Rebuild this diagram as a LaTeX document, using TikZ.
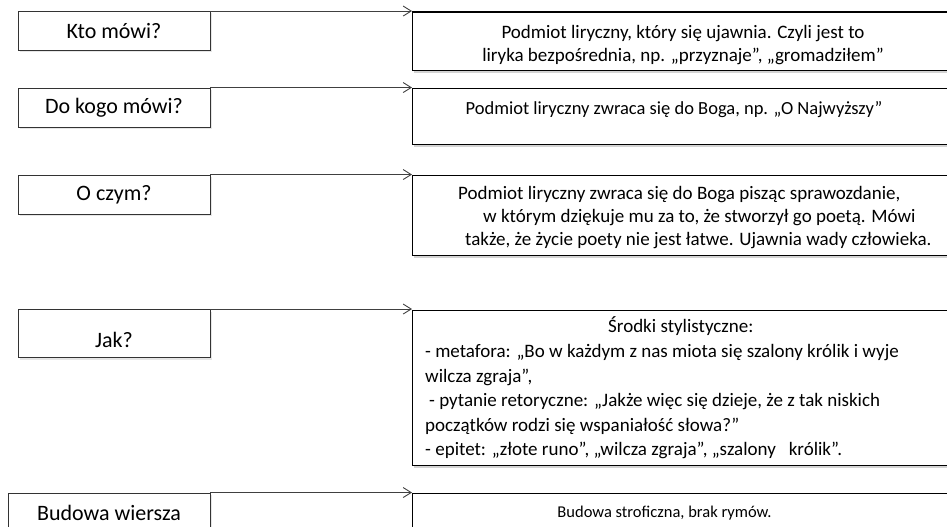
\documentclass[tikz,border=0pt]{standalone}
\usepackage{fontspec}
\setmainfont{Carlito}
\usepackage{tikz}
\usetikzlibrary{positioning,shadows,arrows.meta}

\tikzset{
  question/.style={draw=black!80, line width=0.9pt, fill=white, minimum width=192pt,
    minimum height=39pt, inner sep=0pt, font=\fontsize{22}{26}\selectfont,
    drop shadow={shadow xshift=1.5pt, shadow yshift=-2pt, opacity=0.2}},
  answer/.style={draw=black, line width=1.3pt, fill=white, minimum width=548pt,
    inner sep=0pt, anchor=north west,
    drop shadow={shadow xshift=1.5pt, shadow yshift=-2.5pt, opacity=0.35}},
  answertext/.style={inner sep=0pt, font=\fontsize{19}{23}\selectfont},
  link/.style={draw=black!75, line width=0.9pt, -{Straight Barb[length=8pt,width=10pt]}}
}

\begin{document}
\begin{tikzpicture}[x=1pt, y=-1pt]
	\path[use as bounding box, clip] (0,0) rectangle (947,527);
	% Define nodes
	\node[question]                        (kto)    at (114,31) {Kto mówi?};
	\node[question]                        (dokogo) at (114,107.5) {Do kogo mówi?};
	\node[question]                        (oczym)  at (114,194.5) {O czym?};
	\node[question, minimum height=48pt]   (jak)    at (114,333.5) {\raisebox{-6pt}[\height][\depth]{Jak?}};
	\node[question, minimum width=202pt, minimum height=40pt] (budowa) at (109,513) {Budowa wiersza};
	% Answers
	\node[answer, minimum height=58pt]  (odp1) at (412,11.5) {};
	\node[answer, minimum height=56pt]  (odp2) at (412,88) {};
	\node[answer, minimum height=80pt]  (odp3) at (412,175) {};
	\node[answer, minimum height=155pt] (odp4) at (412,309.5) {};
	\node[answer, minimum height=44pt]  (odp5) at (412,493) {};
	% Texts of the answers
	\node[answertext, align=center] (t1) at (683,45)
	  {Podmiot liryczny, który się ujawnia. Czyli jest to\\ liryka bezpośrednia, np. „przyznaje”, „gromadziłem”};
	\node[answertext, font=\fontsize{18.5}{23}\selectfont] (t2) at (674,110) {Podmiot liryczny zwraca się do Boga, np. „O Najwyższy”};
	\node[answertext, align=left, anchor=west] (t3) at (458,218)
	  {Podmiot liryczny zwraca się do Boga pisząc sprawozdanie,\\
	   \hspace*{25pt}w którym dziękuje mu za to, że stworzył go poetą. Mówi\\
	   \hspace*{7pt}także, że życie poety nie jest łatwe. Ujawnia wady człowieka.};
	\node[answertext, align=left, anchor=west, font=\fontsize{19}{24.6}\selectfont] (t4) at (425,388)
	  {\hspace*{183pt}Środki stylistyczne:\\
	   - metafora: „Bo w każdym z nas miota się szalony królik i wyje\\
	   wilcza zgraja”,\\
	   \hspace*{4pt}- pytanie retoryczne: „Jakże więc się dzieje, że z tak niskich\\
	   początków rodzi się wspaniałość słowa?”\\
	   - epitet: „złote runo”, „wilcza zgraja”, „szalony\ \ \ królik”.};
	\node[answertext, font=\fontsize{16.5}{20}\selectfont] (t5) at (664.5,513) {Budowa stroficzna, brak rymów.};
	% Connect the nodes
	\draw[link] (kto.north east)    -- (kto.north east -| odp1.west);
	\draw[link] (dokogo.north east) -- (dokogo.north east -| odp2.west);
	\draw[link] (oczym.north east)  -- (oczym.north east -| odp3.west);
	\draw[link] (jak.north east)    -- (jak.north east -| odp4.west);
	\draw[link] (budowa.north east) -- (budowa.north east -| odp5.west);
\end{tikzpicture}
\end{document}
